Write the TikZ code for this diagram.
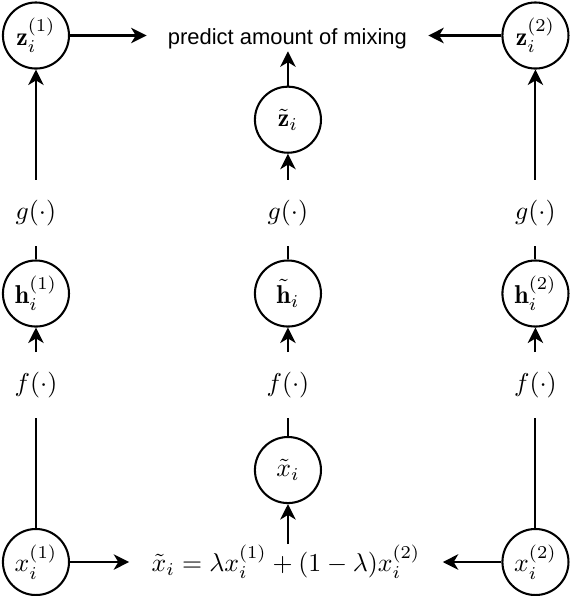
\documentclass[tikz,border=0pt]{standalone}
\usepackage{amsmath}
\usepackage{fontspec}
\newfontfamily\predfont{Liberation Sans}
\usetikzlibrary{arrows.meta}
\begin{document}
\begin{tikzpicture}[
                        var/.style={draw,circle,thick,minimum size=0.9cm,inner sep=0pt},
                        fn/.style={inner xsep=0pt,inner ysep=7.6pt},
                        arr/.style={thick,-{Stealth[length=6pt,width=6pt,inset=1.8pt]}},
                        lin/.style={thick}]
                        \useasboundingbox (-0.49,-0.463) rectangle (7.275,7.657);
                        \node[var] (x1) at (0,0) {$x_i^{(1)}$};
                        \node[var] (x2) at (6.805,0) {$x_i^{(2)}$};
                        \node[anchor=base,inner xsep=8.5pt,inner ysep=0pt] (eq) at (3.406,-0.129)
                            {$\tilde{x}_i = \lambda x_i^{(1)} + (1-\lambda)x_i^{(2)}$};
                        \node[var] (xt) at (3.433,1.253) {$\tilde{x}_i$};
                        \node[fn] (f1) at (0,2.411) {$f(\cdot)$};
                        \node[fn] (ft) at (3.433,2.411) {$f(\cdot)$};
                        \node[fn] (f2) at (6.805,2.411) {$f(\cdot)$};
                        \node[var] (h1) at (0,3.658) {$\mathbf{h}_i^{(1)}$};
                        \node[var] (ht) at (3.433,3.658) {$\tilde{\mathbf{h}}_i$};
                        \node[var] (h2) at (6.805,3.658) {$\mathbf{h}_i^{(2)}$};
                        \node[fn] (g1) at (0,4.755) {$g(\cdot)$};
                        \node[fn] (gt) at (3.433,4.755) {$g(\cdot)$};
                        \node[fn] (g2) at (6.805,4.755) {$g(\cdot)$};
                        \node[var] (zt) at (3.433,6.026) {$\tilde{\mathbf{z}}_i$};
                        \node[var] (z1) at (0,7.173) {$\mathbf{z}_i^{(1)}$};
                        \node[var] (z2) at (6.805,7.173) {$\mathbf{z}_i^{(2)}$};
                        \node[anchor=base,inner xsep=8.1pt,inner ysep=0.5pt,font=\predfont\fontsize{8.5}{10}\selectfont] (pred) at (3.426,7.044)
                            {predict amount of mixing};
                        \draw[arr] (x1) -- (x1 -| eq.west);
                        \draw[arr] (x2) -- (x2 -| eq.east);
                        \draw[arr] (xt |- eq.north) -- (xt);
                        \draw[lin] (x1) -- (f1);
                        \draw[lin] (xt) -- (ft);
                        \draw[lin] (x2) -- (f2);
                        \draw[arr] (f1) -- (h1);
                        \draw[arr] (ft) -- (ht);
                        \draw[arr] (f2) -- (h2);
                        \draw[lin] (h1) -- (g1);
                        \draw[lin] (ht) -- (gt);
                        \draw[lin] (h2) -- (g2);
                        \draw[arr] (g1) -- (z1);
                        \draw[arr] (gt) -- (zt);
                        \draw[arr] (g2) -- (z2);
                        \draw[arr] (zt) -- (zt |- pred.south);
                        \draw[arr] (z1) -- (z1 -| pred.west);
                        \draw[arr] (z2) -- (z2 -| pred.east);
                    \end{tikzpicture}
\end{document}
